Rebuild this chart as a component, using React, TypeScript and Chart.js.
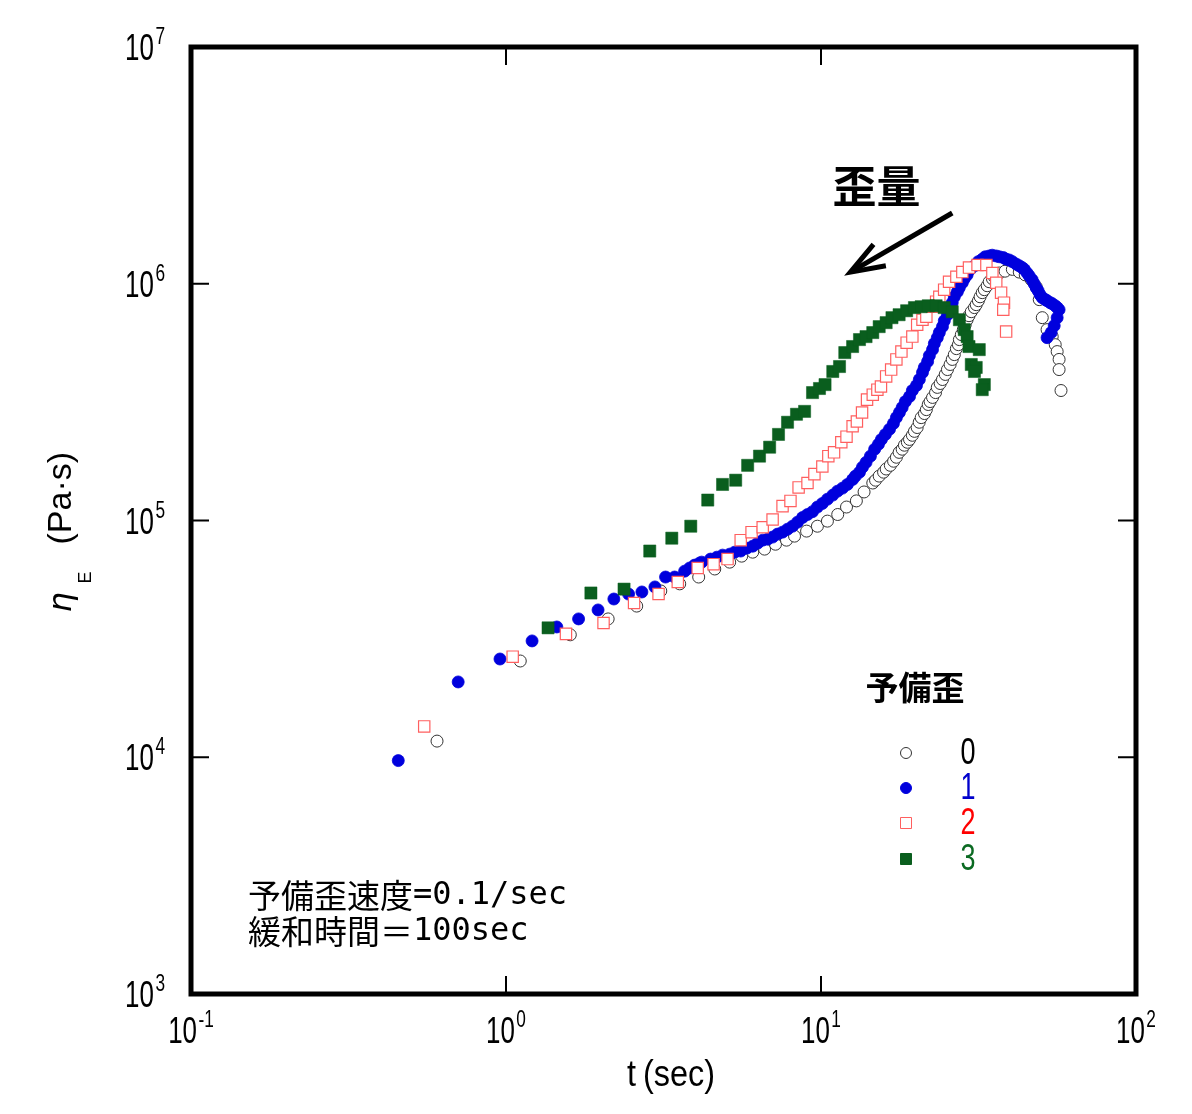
import React, { useEffect, useRef } from "react";
import { Chart, registerables } from "chart.js";

Chart.register(...registerables);

const W = 1192;
const H = 1114;

// ---- data (t in sec, eta_E in Pa·s) ----
const t0 = [0.604, 1.11, 1.6, 2.11, 2.6, 3.1, 3.56, 4.09, 4.6, 5.13, 5.6, 6.07, 6.62, 7.17, 7.77, 8.24, 9.0, 9.74, 10.48, 11.3, 12.05, 12.95, 13.7, 14.6, 14.9, 15.3, 15.8, 16.1, 16.6, 17.0, 17.35, 17.7, 18.1, 18.4, 18.8, 19.1, 19.5, 19.8, 20.2, 20.5, 20.8, 21.3, 21.6, 21.9, 22.2, 22.6, 23.1, 23.4, 23.9, 24.3, 24.8, 25.2, 25.7, 26.1, 26.5, 26.9, 27.3, 27.5, 27.9, 28.3, 28.7, 29.1, 29.5, 30.0, 30.7, 31.1, 31.6, 32.0, 32.5, 33.0, 33.7, 34.2, 35.0, 35.5, 36.8, 38.4, 40.5, 42.6, 44.5, 46.5, 48.2, 49.3, 50.4, 52.2, 54.2, 55.4, 56.2, 57.0, 57.0, 57.8];
const eta0 = [11700, 25500, 32900, 38400, 43500, 50400, 54000, 57700, 62400, 66700, 70700, 73500, 75700, 79400, 82600, 85900, 90200, 94600, 99400, 106000, 114000, 121000, 132000, 144000, 148000, 154000, 160000, 165000, 171000, 178000, 185000, 194000, 200000, 208000, 214000, 220000, 229000, 238000, 247000, 260000, 272000, 283000, 294000, 309000, 318000, 331000, 347000, 365000, 379000, 394000, 414000, 434000, 456000, 479000, 502000, 532000, 553000, 581000, 610000, 640000, 671000, 705000, 733000, 762000, 793000, 816000, 848000, 881000, 917000, 944000, 981000, 1020000, 1050000, 1070000, 1110000, 1130000, 1150000, 1120000, 1090000, 1040000, 971000, 857000, 719000, 640000, 598000, 553000, 517000, 479000, 434000, 354000];

const t1 = [0.455, 0.705, 0.957, 1.21, 1.45, 1.7, 1.96, 2.2, 2.45, 2.7, 2.97, 3.21, 3.43, 3.69, 3.83, 3.97, 4.12, 4.18, 4.46, 4.67, 4.87, 5.13, 5.32, 5.56, 5.81, 6.07, 6.29, 6.53, 6.77, 7.02, 7.28, 7.55, 7.83, 8.12, 8.42, 8.74, 9.06, 9.4, 9.74, 10.1, 10.48, 10.9, 11.28, 11.7, 12.13, 12.6, 12.86, 13.25, 13.54, 13.9, 14.35, 14.8, 15.22, 15.55, 16.01, 16.5, 16.98, 17.35, 17.74, 18.1, 18.53, 19.1, 19.5, 20.1, 20.52, 21.0, 21.28, 21.8, 22.08, 22.6, 22.9, 23.4, 23.75, 24.3, 24.63, 25.2, 25.55, 26.1, 26.5, 27.1, 27.48, 28.1, 28.5, 29.1, 29.78, 30.7, 31.57, 32.5, 33.22, 34.2, 34.96, 36.0, 36.8, 37.9, 38.7, 39.6, 40.5, 41.7, 42.6, 43.5, 44.2, 45.1, 45.8, 46.8, 47.5, 48.2, 48.9, 49.6, 50.4, 51.5, 52.2, 53.4, 54.2, 55.4, 56.2, 57.0, 56.2, 55.0, 53.8, 52.2];
const eta1 = [9680, 20800, 26000, 31000, 35500, 38400, 41900, 46600, 48900, 49900, 52400, 57700, 57700, 61100, 63000, 64800, 66100, 66700, 68700, 70000, 71400, 72100, 73500, 74300, 76400, 77900, 80200, 82600, 83400, 85100, 87600, 89300, 91900, 94600, 98400, 103000, 106000, 109000, 114000, 118000, 123000, 128000, 133000, 137000, 142000, 149000, 154000, 160000, 168000, 176000, 187000, 200000, 210000, 220000, 231000, 243000, 257000, 272000, 286000, 300000, 318000, 334000, 354000, 372000, 394000, 422000, 443000, 469000, 497000, 527000, 559000, 592000, 622000, 659000, 698000, 740000, 785000, 832000, 881000, 925000, 962000, 1010000, 1050000, 1090000, 1150000, 1190000, 1240000, 1270000, 1300000, 1310000, 1320000, 1310000, 1300000, 1290000, 1270000, 1260000, 1240000, 1210000, 1190000, 1170000, 1150000, 1110000, 1080000, 1040000, 1000000, 962000, 934000, 899000, 873000, 857000, 848000, 832000, 824000, 807000, 793000, 777000, 719000, 665000, 622000, 592000];

const t2 = [0.55, 1.05, 1.55, 2.04, 2.55, 3.05, 3.51, 4.06, 4.56, 5.05, 5.56, 6.02, 6.53, 7.02, 7.55, 8.0, 8.49, 9.06, 9.53, 10.1, 10.55, 11.0, 11.6, 12.05, 12.6, 13.0, 13.5, 14.0, 14.6, 15.1, 15.5, 16.1, 16.7, 17.35, 18.0, 18.7, 19.5, 20.2, 21.0, 21.6, 22.6, 23.2, 23.75, 24.6, 25.5, 26.9, 28.1, 29.5, 31.4, 33.5, 35.0, 36.0, 37.3, 38.1, 37.9, 38.7];
const eta2 = [13500, 26600, 33200, 36900, 44800, 48900, 55000, 63000, 65400, 68700, 82600, 89300, 93700, 101000, 115000, 121000, 138000, 144000, 157000, 169000, 187000, 194000, 214000, 226000, 250000, 262000, 286000, 324000, 340000, 357000, 368000, 406000, 434000, 479000, 517000, 564000, 598000, 671000, 705000, 726000, 800000, 840000, 881000, 944000, 1020000, 1070000, 1120000, 1170000, 1200000, 1200000, 1110000, 1010000, 917000, 832000, 777000, 628000];

const t3 = [1.36, 1.86, 2.37, 2.86, 3.36, 3.86, 4.37, 4.87, 5.36, 5.85, 6.38, 6.87, 7.33, 7.83, 8.36, 8.87, 9.4, 9.89, 10.3, 10.9, 11.45, 11.9, 12.6, 13.25, 13.9, 14.6, 15.3, 16.1, 16.8, 17.7, 18.7, 19.8, 20.8, 21.9, 23.2, 24.6, 26.1, 27.5, 28.5, 29.1, 29.5, 31.8, 30.0, 31.1, 30.7, 33.0, 32.5];
const eta3 = [35200, 49400, 51300, 74300, 84200, 94600, 122000, 142000, 148000, 171000, 187000, 204000, 231000, 260000, 281000, 289000, 347000, 361000, 375000, 426000, 447000, 512000, 543000, 581000, 598000, 622000, 659000, 685000, 719000, 740000, 769000, 793000, 800000, 807000, 807000, 793000, 762000, 705000, 640000, 598000, 543000, 527000, 456000, 443000, 426000, 375000, 357000];

// ---- axes / labels ----
const xTickValues = [0.1, 1, 10, 100];
const xTickExps = ["-1", "0", "1", "2"];
const yTickValues = [1e3, 1e4, 1e5, 1e6, 1e7];
const yTickExps = ["3", "4", "5", "6", "7"];
const seriesLabels = ["0", "1", "2", "3"];
const legendTitle = "予備歪";
const xTitleParts = ["t", "(sec)"];
const noteLines = ["予備歪速度=0.1/sec", "緩和時間＝100sec"];
const arrowLabel = "歪量";
const arrowTail = { x: 26.1, y: 1.99e6 };
const arrowTip = { x: 12.4, y: 1.12e6 };
const arrowLabelPos = { x: 15.0, y: 2.59e6 };

const markerEdge = ["#333333", "#0000dd", "#ff5f5f", "#0a5e1e"];
const markerFill = ["#ffffff", "#0000dd", "#ffffff", "#0a5e1e"];
const labelColors = ["#000000", "#0000cc", "#ff0000", "#0b6a22"];

const NUM_FONT = '"Liberation Sans", Arial, sans-serif';
const CJK_FONT = '"Noto Sans CJK JP", "Noto Sans", sans-serif';
const MONO_FONT = '"DejaVu Sans Mono", "Liberation Mono", monospace';

function pts(xs: number[], ys: number[]) {
  return xs.map((x, i) => ({ x, y: ys[i] }));
}

function drawPow(ctx: CanvasRenderingContext2D, exp: string, x: number, y: number, align: "center" | "right") {
  const sx = 0.72;
  ctx.save();
  ctx.font = `36px ${NUM_FONT}`;
  const wb = ctx.measureText("10").width;
  ctx.font = `24px ${NUM_FONT}`;
  const we = ctx.measureText(exp).width;
  const total = (wb + 2 + we) * sx;
  const x0 = align === "center" ? x - total / 2 : x - total;
  ctx.translate(x0, y);
  ctx.scale(sx, 1);
  ctx.fillStyle = "#000";
  ctx.textAlign = "left";
  ctx.textBaseline = "alphabetic";
  ctx.font = `36px ${NUM_FONT}`;
  ctx.fillText("10", 0, 13);
  ctx.font = `24px ${NUM_FONT}`;
  ctx.fillText(exp, wb + 2, -3);
  ctx.restore();
}

function drawMixed(ctx: CanvasRenderingContext2D, line: string, x: number, y: number) {
  const m = line.match(/^([^\x00-\x7F]*)(.*)$/);
  const cjk = m ? m[1] : line;
  const asc = m ? m[2] : "";
  ctx.save();
  ctx.fillStyle = "#000";
  ctx.textAlign = "left";
  ctx.textBaseline = "middle";
  ctx.font = `33px ${CJK_FONT}`;
  ctx.fillText(cjk, x, y);
  const w = ctx.measureText(cjk).width;
  ctx.font = `32px ${MONO_FONT}`;
  ctx.fillText(asc, x + w, y + 1);
  ctx.restore();
}

function drawMarker(ctx: CanvasRenderingContext2D, i: number, x: number, y: number) {
  ctx.save();
  ctx.fillStyle = markerFill[i];
  ctx.strokeStyle = markerEdge[i];
  ctx.lineWidth = 1;
  ctx.beginPath();
  if (i === 0 || i === 1) {
    ctx.arc(x, y, 5.5, 0, Math.PI * 2);
  } else {
    ctx.rect(x - 5.5, y - 5.5, 11, 11);
  }
  ctx.fill();
  ctx.stroke();
  ctx.restore();
}

const decor = {
  id: "decor",
  afterDraw(chart: any) {
    const ctx: CanvasRenderingContext2D = chart.ctx;
    const { left, right, top, bottom } = chart.chartArea;
    const xs = chart.scales.x;
    const ys = chart.scales.y;
    ctx.save();

    // inward ticks on all sides
    ctx.strokeStyle = "#000";
    ctx.lineWidth = 2;
    const TL = 18;
    xTickValues.forEach((v) => {
      const px = xs.getPixelForValue(v);
      ctx.beginPath();
      ctx.moveTo(px, bottom);
      ctx.lineTo(px, bottom - TL);
      ctx.moveTo(px, top);
      ctx.lineTo(px, top + TL);
      ctx.stroke();
    });
    yTickValues.forEach((v) => {
      const py = ys.getPixelForValue(v);
      ctx.beginPath();
      ctx.moveTo(left, py);
      ctx.lineTo(left + TL, py);
      ctx.moveTo(right, py);
      ctx.lineTo(right - TL, py);
      ctx.stroke();
    });

    // frame
    ctx.lineWidth = 5;
    ctx.strokeRect(left, top, right - left, bottom - top);

    // tick labels
    xTickValues.forEach((v, i) => drawPow(ctx, xTickExps[i], xs.getPixelForValue(v), bottom + 36, "center"));
    yTickValues.forEach((v, i) => drawPow(ctx, yTickExps[i], left - 26, ys.getPixelForValue(v), "right"));

    // x title
    ctx.save();
    ctx.fillStyle = "#000";
    ctx.font = `36px ${NUM_FONT}`;
    ctx.textBaseline = "middle";
    ctx.textAlign = "left";
    const sx = 0.9;
    const gap = 7;
    const w0 = ctx.measureText(xTitleParts[0]).width * sx;
    const w1 = ctx.measureText(xTitleParts[1]).width * sx;
    const startX = left + 480 - (w0 + gap + w1) / 2;
    ctx.translate(startX, bottom + 82);
    ctx.scale(sx, 1);
    ctx.fillText(xTitleParts[0], 0, 0);
    ctx.fillText(xTitleParts[1], (w0 + gap) / sx, 0);
    ctx.restore();

    // y title
    ctx.save();
    ctx.translate(71, (top + bottom) / 2 + 12);
    ctx.rotate(-Math.PI / 2);
    ctx.fillStyle = "#000";
    ctx.textAlign = "left";
    ctx.textBaseline = "alphabetic";
    ctx.font = `italic 32px "DejaVu Sans", sans-serif`;
    ctx.fillText("η", -80, 0);
    ctx.font = `18px ${NUM_FONT}`;
    ctx.fillText("E", -51, 20);
    ctx.font = `34px ${NUM_FONT}`;
    ctx.fillText("(Pa·s)", -12, 0);
    ctx.restore();

    // notes
    drawMixed(ctx, noteLines[0], left + 57, top + 848);
    drawMixed(ctx, noteLines[1], left + 57, top + 884);

    // legend
    ctx.fillStyle = "#000";
    ctx.font = `bold 33px ${CJK_FONT}`;
    ctx.textAlign = "center";
    ctx.textBaseline = "middle";
    ctx.fillText(legendTitle, left + 724, top + 640);
    const rows = [706, 741, 776, 812];
    seriesLabels.forEach((lab, i) => {
      const ry = top + rows[i];
      drawMarker(ctx, i, left + 715, ry);
      ctx.save();
      ctx.translate(left + 777, ry);
      ctx.scale(0.75, 1);
      ctx.fillStyle = labelColors[i];
      ctx.font = `36px ${NUM_FONT}`;
      ctx.textAlign = "center";
      ctx.textBaseline = "middle";
      ctx.fillText(lab, 0, 1);
      ctx.restore();
    });

    // arrow annotation
    const tx = xs.getPixelForValue(arrowTail.x);
    const ty = ys.getPixelForValue(arrowTail.y);
    const hx = xs.getPixelForValue(arrowTip.x);
    const hy = ys.getPixelForValue(arrowTip.y);
    const len = Math.hypot(tx - hx, ty - hy);
    const ux = (tx - hx) / len;
    const uy = (ty - hy) / len;
    const ang = (20 * Math.PI) / 180;
    const wl = 36;
    const w1x = hx + wl * (ux * Math.cos(ang) - uy * Math.sin(ang));
    const w1y = hy + wl * (ux * Math.sin(ang) + uy * Math.cos(ang));
    const w2x = hx + wl * (ux * Math.cos(-ang) - uy * Math.sin(-ang));
    const w2y = hy + wl * (ux * Math.sin(-ang) + uy * Math.cos(-ang));
    ctx.strokeStyle = "#000";
    ctx.lineWidth = 5;
    ctx.lineJoin = "miter";
    ctx.beginPath();
    ctx.moveTo(tx, ty);
    ctx.lineTo(hx + ux * 3, hy + uy * 3);
    ctx.stroke();
    ctx.beginPath();
    ctx.moveTo(w1x, w1y);
    ctx.lineTo(hx, hy);
    ctx.lineTo(w2x, w2y);
    ctx.stroke();

    ctx.font = `bold 44px ${CJK_FONT}`;
    ctx.textAlign = "center";
    ctx.textBaseline = "middle";
    ctx.fillStyle = "#000";
    ctx.fillText(arrowLabel, xs.getPixelForValue(arrowLabelPos.x), ys.getPixelForValue(arrowLabelPos.y));

    ctx.restore();
  },
};

export default function App() {
  const ref = useRef<HTMLCanvasElement>(null);
  useEffect(() => {
    if (!ref.current) return;
    const chart = new Chart(ref.current, {
      type: "scatter",
      data: {
        datasets: [
          {
            label: seriesLabels[0],
            data: pts(t0, eta0),
            pointStyle: "circle",
            pointRadius: 6,
            pointBackgroundColor: markerFill[0],
            pointBorderColor: markerEdge[0],
            pointBorderWidth: 1,
            order: 4,
          },
          {
            label: seriesLabels[1],
            data: pts(t1, eta1),
            pointStyle: "circle",
            pointRadius: 6,
            pointBackgroundColor: markerFill[1],
            pointBorderColor: markerEdge[1],
            pointBorderWidth: 0.8,
            order: 3,
          },
          {
            label: seriesLabels[2],
            data: pts(t2, eta2),
            pointStyle: "rect",
            pointRadius: 8,
            pointBackgroundColor: markerFill[2],
            pointBorderColor: markerEdge[2],
            pointBorderWidth: 1.2,
            order: 2,
          },
          {
            label: seriesLabels[3],
            data: pts(t3, eta3),
            pointStyle: "rect",
            pointRadius: 8.6,
            pointBackgroundColor: markerFill[3],
            pointBorderColor: markerEdge[3],
            pointBorderWidth: 0.5,
            order: 1,
          },
        ],
      },
      options: {
        responsive: false,
        animation: false,
        devicePixelRatio: 1,
        events: [],
        layout: { padding: { left: 191, top: 47, right: 56, bottom: 120 } },
        plugins: { legend: { display: false }, tooltip: { enabled: false } },
        scales: {
          x: { type: "logarithmic", min: 0.1, max: 100, display: false },
          y: { type: "logarithmic", min: 1000, max: 1e7, display: false },
        },
      },
      plugins: [decor],
    });
    return () => chart.destroy();
  }, []);
  return (
    <div style={{ position: "absolute", left: 0, top: 0, width: W, height: H }}>
      <canvas ref={ref} width={W} height={H} style={{ display: "block", width: W, height: H }} />
    </div>
  );
}
